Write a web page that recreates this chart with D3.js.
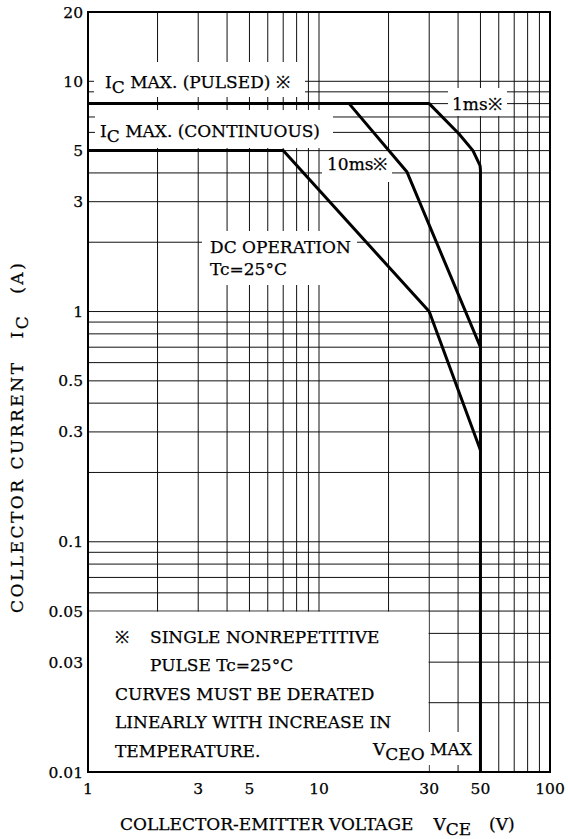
<!DOCTYPE html>
<html>
<head>
<meta charset="utf-8">
<script src="https://cdn.jsdelivr.net/npm/d3@7"></script>
<style>
    body { margin: 0; background: #fff; }
    svg { display: block; }
    text { font-family: "DejaVu Serif", serif; fill: #000; stroke: #000; stroke-width: 0.25px; }
</style>
</head>
<body>
<svg id="chart" width="568" height="839"></svg>
<script>
// axis labels
const xTickValues = [1, 3, 5, 10, 30, 50, 100];
const yTickValues = [0.01, 0.03, 0.05, 0.1, 0.3, 0.5, 1, 3, 5, 10, 20];

// safe operating area curves [VCE (V), IC (A)]
const pulse1ms = [[1, 8], [30, 8], [40.4, 5.9], [46.4, 5], [49.8, 4.3], [50, 4.1], [50, 0.01]];
const pulse10ms = [[13.5, 8], [24, 4.05], [50, 0.7]];
const dcOperation = [[1, 5], [7, 5], [30, 1], [50, 0.25]];

const noteLines = [
    ['\u203B', 'SINGLE NONREPETITIVE'],
    ['', 'PULSE Tc=25\u00B0C'],
    ['CURVES MUST BE DERATED'],
    ['LINEARLY WITH INCREASE IN'],
    ['TEMPERATURE.']
];

const svg = d3.select('#chart');
const plotLeft = 88, plotRight = 550, plotTop = 12, plotBottom = 772;

const x = d3.scaleLog().domain([1, 100]).range([plotLeft, plotRight]);
const y = d3.scaleLog().domain([0.01, 20]).range([plotBottom, plotTop]);

// grid: every 1..9 of each decade
const grid = svg.append('g').attr('stroke', '#111').attr('stroke-width', 1);
x.ticks().forEach((v) => {
    grid.append('line')
        .attr('x1', x(v)).attr('x2', x(v))
        .attr('y1', plotTop).attr('y2', plotBottom);
});
y.ticks().forEach((v) => {
    grid.append('line')
        .attr('x1', plotLeft).attr('x2', plotRight)
        .attr('y1', y(v)).attr('y2', y(v));
});

// white boxes that blank the grid under labels
const boxes = [
    [94, 62, 305, 97],
    [95, 110, 333, 148],
    [448, 88, 507, 116],
    [322, 152, 392, 182],
    [202, 231, 357, 285],
    [370, 732, 478, 765],
    [x(1) + 1, y(0.05) + 0.6, x(30) - 0.6, y(0.01) - 1]
];
svg.append('g').selectAll('rect')
    .data(boxes)
    .enter()
    .append('rect')
    .attr('x', (d) => d[0])
    .attr('y', (d) => d[1])
    .attr('width', (d) => d[2] - d[0])
    .attr('height', (d) => d[3] - d[1])
    .attr('fill', '#fff');

// curves
const line = d3.line()
    .x((d) => x(d[0]))
    .y((d) => y(d[1]));

[pulse1ms, pulse10ms, dcOperation].forEach((series) => {
    svg.append('path')
        .datum(series)
        .attr('fill', 'none')
        .attr('stroke', '#000')
        .attr('stroke-width', 3)
        .attr('stroke-linejoin', 'round')
        .attr('d', line);
});

// frame
svg.append('rect')
    .attr('x', plotLeft).attr('y', plotTop)
    .attr('width', plotRight - plotLeft).attr('height', plotBottom - plotTop)
    .attr('fill', 'none')
    .attr('stroke', '#000')
    .attr('stroke-width', 2);

// tick labels
svg.selectAll('text.ytick')
    .data(yTickValues)
    .enter()
    .append('text')
    .attr('class', 'ytick')
    .attr('x', plotLeft - 5)
    .attr('y', (d) => y(d) + 5.5)
    .attr('text-anchor', 'end')
    .style('font-size', '15.5px')
    .text((d) => d);

svg.selectAll('text.xtick')
    .data(xTickValues)
    .enter()
    .append('text')
    .attr('class', 'xtick')
    .attr('x', (d) => x(d))
    .attr('y', plotBottom + 22)
    .attr('text-anchor', 'middle')
    .style('font-size', '15.5px')
    .text((d) => d);

// text with a subscript part
const SUB = 5;
const subText = (g, px, py, parts, size) => {
    const t = g.append('text').attr('x', px).attr('y', py).style('font-size', size + 'px');
    let shift = 0;
    parts.forEach(([s, sub, dx]) => {
        const dy = sub ? SUB - shift : -shift;
        shift = sub ? SUB : 0;
        t.append('tspan').attr('dy', dy).attr('dx', dx || 0).text(s);
    });
    return t;
};

const labelSize = 17;
subText(svg, 105, 88, [['I'], ['C', true], [' MAX. (PULSED) \u203B']], labelSize);
subText(svg, 100, 137, [['I'], ['C', true], [' MAX. (CONTINUOUS)']], labelSize);
subText(svg, 452, 110, [['1ms\u203B']], labelSize);
subText(svg, 327, 170, [['10ms\u203B']], labelSize);
subText(svg, 210, 253, [['DC OPERATION']], labelSize);
subText(svg, 210, 275, [['Tc=25\u00B0C']], labelSize);
subText(svg, 373, 755, [['V'], ['CEO', true], [' MAX']], labelSize);

// note block
noteLines.forEach((parts, i) => {
    const t = svg.append('text')
        .attr('y', 643 + i * 28.4)
        .style('font-size', labelSize + 'px')
        .attr('x', 115);
    if (parts.length === 2) {
        t.append('tspan').attr('x', 115).text(parts[0]);
        t.append('tspan').attr('x', 150).text(parts[1]);
    } else {
        t.text(parts[0]);
    }
});

// axis titles
subText(svg, 120, 830, [['COLLECTOR-EMITTER VOLTAGE'], ['V', false, 20], ['CE', true], ['(V)', false, 18]], labelSize);

const yTitle = svg.append('g').attr('transform', 'translate(23, 613) rotate(-90)');
subText(yTitle, 0, 0, [['COLLECTOR CURRENT'], ['I', false, 22], ['C', true], ['(A)', false, 20]], labelSize)
    .style('letter-spacing', '2.5px');
</script>
</body>
</html>
